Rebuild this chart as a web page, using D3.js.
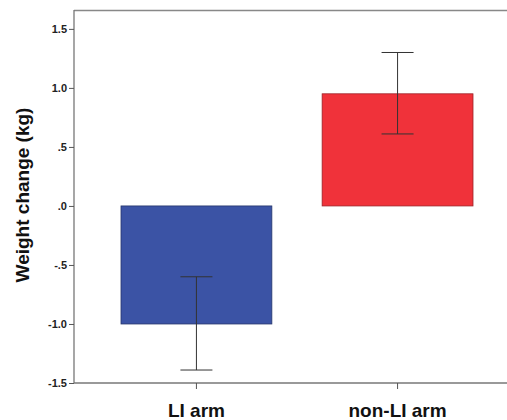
<!DOCTYPE html>
<html>
<head>
<meta charset="utf-8">
<script src="https://cdn.jsdelivr.net/npm/d3@7"></script>
<style>
  body { margin: 0; background: #fff; }
  text { font-family: "Liberation Sans", Arial, sans-serif; }
</style>
</head>
<body>
<div id="chart"></div>
<script>
let categories = ["LI arm", "non-LI arm"];
let means = [-1.0, 0.95];
let ciLow = [-1.39, 0.61];
let ciHigh = [-0.6, 1.3];
let colors = ["#3b53a5", "#f0323a"];
let ticks = [-1.5, -1.0, -0.5, 0, 0.5, 1.0, 1.5];
let tickLabels = ["-1.5", "-1.0", "-.5", ".0", ".5", "1.0", "1.5"];

let width = 507, height = 420;
let svg = d3.select("#chart").append("svg")
    .attr("width", width)
    .attr("height", height);

let plotLeft = 74, plotTop = 10, plotBottom = 383;

let y = d3.scaleLinear()
    .domain([-1.5, 1.66])
    .range([plotBottom, plotTop]);

let x = d3.scaleBand()
    .domain(categories)
    .range([121, 473])
    .paddingInner(0.25)
    .paddingOuter(0);

// top frame line
svg.append("line")
    .attr("x1", plotLeft).attr("x2", width)
    .attr("y1", plotTop + 0.5).attr("y2", plotTop + 0.5)
    .attr("stroke", "#888").attr("stroke-width", 1.3);

// bars
svg.selectAll(".bar")
    .data(categories)
    .join("rect")
    .attr("class", "bar")
    .attr("x", d => x(d))
    .attr("width", x.bandwidth())
    .attr("y", (d, i) => y(Math.max(0, means[i])))
    .attr("height", (d, i) => Math.abs(y(means[i]) - y(0)))
    .attr("fill", (d, i) => colors[i])
    .attr("stroke", (d, i) => d3.color(colors[i]).darker(1.2))
    .attr("stroke-width", 0.8);

// error bars
let eb = svg.selectAll(".err")
    .data(categories)
    .join("g")
    .attr("class", "err")
    .attr("stroke", "#333")
    .attr("stroke-width", 1);

eb.append("line")
    .attr("x1", d => x(d) + x.bandwidth() / 2)
    .attr("x2", d => x(d) + x.bandwidth() / 2)
    .attr("y1", (d, i) => y(ciLow[i]))
    .attr("y2", (d, i) => y(ciHigh[i]));

eb.selectAll(".cap")
    .data((d, i) => [{c: d, v: ciLow[i]}, {c: d, v: ciHigh[i]}])
    .join("line")
    .attr("x1", d => x(d.c) + x.bandwidth() / 2 - 16)
    .attr("x2", d => x(d.c) + x.bandwidth() / 2 + 16)
    .attr("y1", d => y(d.v))
    .attr("y2", d => y(d.v));

// y axis
let yAxis = svg.append("g")
    .attr("transform", `translate(${plotLeft},0)`)
    .call(d3.axisLeft(y)
        .tickValues(ticks)
        .tickFormat((d, i) => tickLabels[i])
        .tickSize(5)
        .tickPadding(2));
yAxis.select(".domain")
    .attr("d", `M0,${plotTop}V${plotBottom}`)
    .attr("stroke", "#777").attr("stroke-width", 1.3);
yAxis.selectAll(".tick line").attr("stroke", "#555");
yAxis.selectAll(".tick text")
    .attr("font-size", 11)
    .attr("font-weight", "bold")
    .attr("fill", "#222");

// x axis
let xAxis = svg.append("g")
    .attr("transform", `translate(0,${plotBottom})`)
    .call(d3.axisBottom(x).tickSize(6).tickPadding(0));
xAxis.select(".domain")
    .attr("d", `M${plotLeft},0H${width}`)
    .attr("stroke", "#777").attr("stroke-width", 1.3);
xAxis.selectAll(".tick line").attr("stroke", "#555");
xAxis.selectAll(".tick text")
    .attr("y", 34)
    .attr("dy", null)
    .attr("font-size", 19)
    .attr("font-weight", "bold")
    .attr("fill", "#111");

// y label
svg.append("text")
    .attr("transform", `translate(29,195) rotate(-90)`)
    .attr("text-anchor", "middle")
    .attr("font-size", 19)
    .attr("font-weight", "bold")
    .attr("fill", "#111")
    .text("Weight change (kg)");
</script>
</body>
</html>
